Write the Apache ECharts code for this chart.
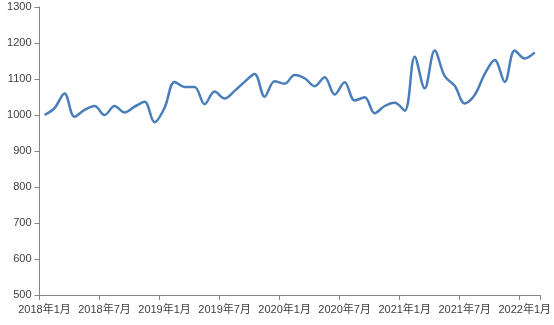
<!DOCTYPE html>
<html><head><meta charset="utf-8">
<script src="https://cdn.jsdelivr.net/npm/echarts@6/dist/echarts.min.js"></script>
<style>html,body{margin:0;padding:0;background:#fff}#c{width:554px;height:325px}</style>
</head><body><div id="c"></div>
<script>
const months = [];
for (let y = 2018; y <= 2022; y++) for (let m = 1; m <= 12; m++) { if (months.length < 50) months.push(y + '年' + m + '月'); }
const values = [1000,1019,1060,995,1014,1025,1000,1025,1007,1023,1037,980,1020,1092,1078,1078,1030,1065,1046,1067,1092,1114,1051,1094,1087,1111,1102,1080,1105,1057,1091,1040,1049,1005,1025,1034,1012,1162,1074,1179,1108,1081,1032,1056,1114,1153,1092,1179,1157,1174];
const yMin = 500, yMax = 1300, yStep = 100;
const chart = echarts.init(document.getElementById('c'), null, {renderer:'canvas'});
const font = '"Liberation Sans","Noto Sans CJK SC",sans-serif';
chart.setOption({
  animation:false,
  grid:{left:39.5,right:9.5,top:7,bottom:30},
  xAxis:{type:'category',data:months,boundaryGap:true,
    axisLine:{lineStyle:{color:'#868686',width:1}},
    axisTick:{show:true,interval:5,length:5,lineStyle:{color:'#868686'}},
    axisLabel:{interval:5,color:'#404040',fontSize:11,fontFamily:font,margin:9}},
  yAxis:{type:'value',min:yMin,max:yMax,interval:yStep,
    axisLine:{show:true,lineStyle:{color:'#868686',width:1}},
    axisTick:{show:true,length:5,lineStyle:{color:'#868686'}},
    splitLine:{show:false},
    axisLabel:{color:'#404040',fontSize:11,fontFamily:font,margin:8,formatter:function(v){return String(v);}}},
  series:[{type:'line',data:values,smooth:0.35,symbol:'none',
    lineStyle:{color:'#4a7ebb',width:2.5}}]
});
</script></body></html>
